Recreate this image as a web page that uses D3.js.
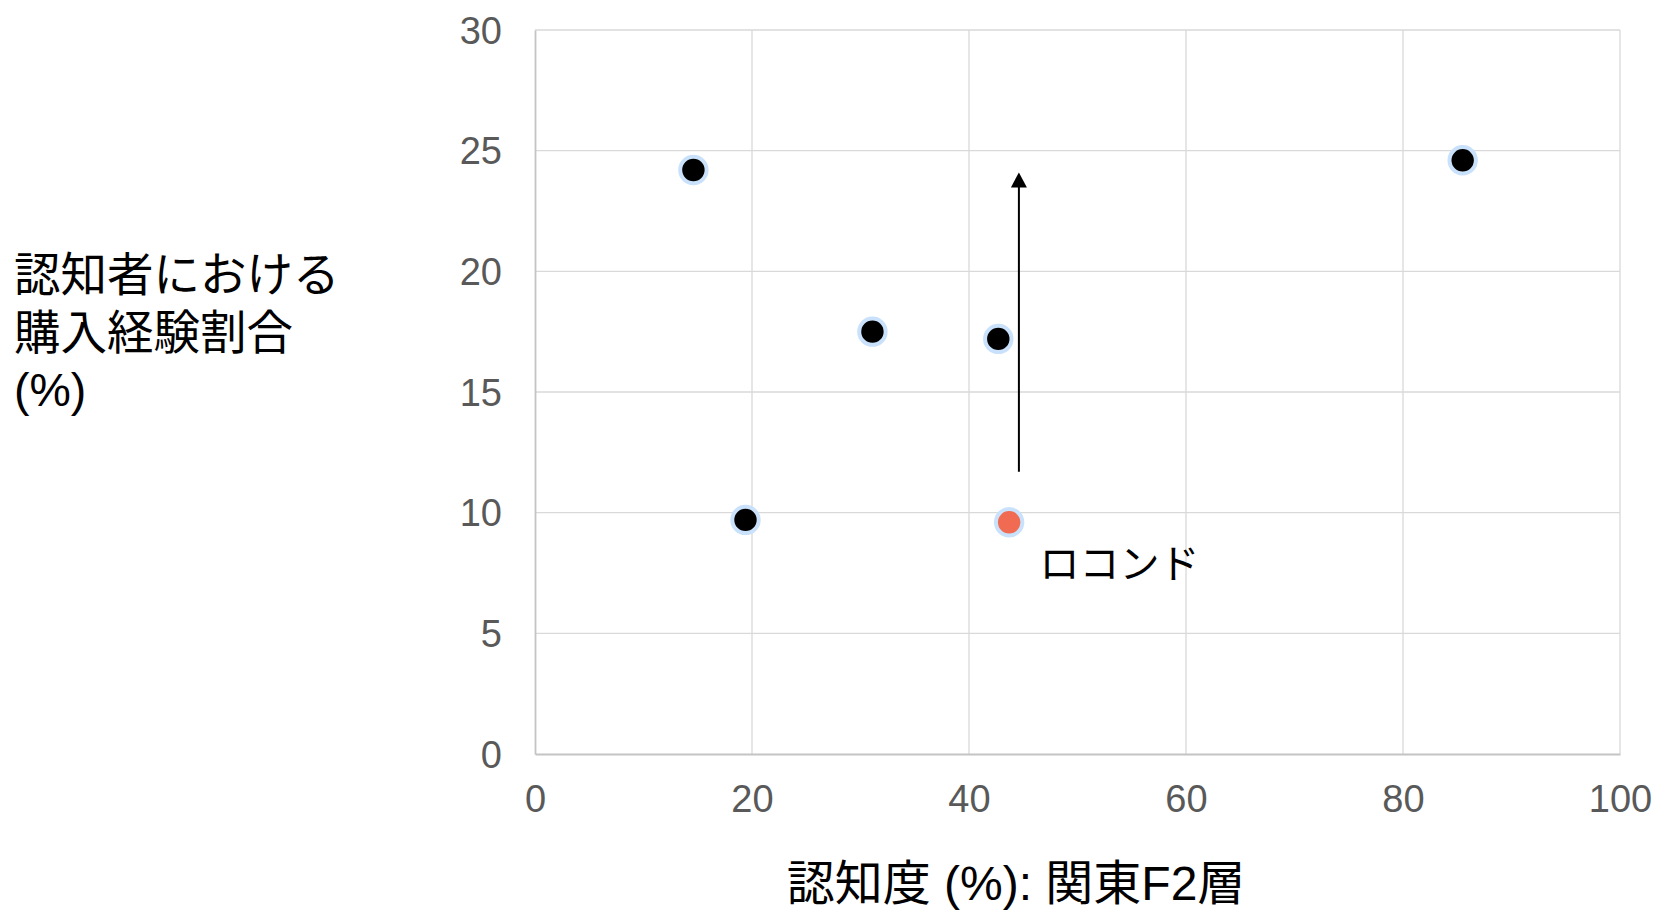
<!DOCTYPE html>
<html><head><meta charset="utf-8">
<script src="https://cdn.jsdelivr.net/npm/d3@7"></script>
<style>
body{margin:0;background:#fff;}
text{font-family:"Liberation Sans","Noto Sans CJK JP",Arial,sans-serif;}
</style></head>
<body>
<svg id="chart" width="1657" height="912"></svg>
<script>
const xValues = [14.6, 19.4, 31.1, 42.7, 85.5, 43.7];
const yValues = [24.2, 9.7, 17.5, 17.2, 24.6, 9.6];
const highlight = [false, false, false, false, false, true];
const xTicks = [0, 20, 40, 60, 80, 100];
const yTicks = [0, 5, 10, 15, 20, 25, 30];
const arrowX = [44.6, 44.6];
const arrowY = [11.7, 24.1];
const pointLabel = "ロコンド";
const pointLabelPos = [46.5, 7.3];
const xTitle = "認知度 (%): 関東F2層";
const yTitleLines = ["認知者における", "購入経験割合", "(%)"];

const svg = d3.select("#chart");
const L = 535, R = 1620, T = 30, B = 754;
const x = d3.scaleLinear().domain([0, 100]).range([L, R]);
const y = d3.scaleLinear().domain([0, 30]).range([B, T]);

// gridlines
svg.append("g").selectAll("line").data(xTicks.filter(d => d > 0)).join("line")
  .attr("x1", d => x(d)).attr("x2", d => x(d)).attr("y1", T).attr("y2", B)
  .attr("stroke", "#d9d9d9").attr("stroke-width", 1.3);
svg.append("g").selectAll("line").data(yTicks.filter(d => d > 0)).join("line")
  .attr("x1", L).attr("x2", R).attr("y1", d => y(d)).attr("y2", d => y(d))
  .attr("stroke", "#d9d9d9").attr("stroke-width", 1.3);

// axes lines
const xAxis = d3.axisBottom(x).tickValues(xTicks).tickSize(0).tickPadding(0);
const yAxis = d3.axisLeft(y).tickValues(yTicks).tickSize(0).tickPadding(0);
const gx = svg.append("g").attr("transform", `translate(0,${B})`).call(xAxis);
const gy = svg.append("g").attr("transform", `translate(${L},0)`).call(yAxis);
[gx, gy].forEach(g => {
  g.select(".domain").attr("stroke", "#c4c4c4").attr("stroke-width", 1.8);
  g.selectAll("text").attr("fill", "#595959").style("font-size", "38px")
   .style("font-family", '"Liberation Sans", Arial, sans-serif');
});
gx.selectAll("text").attr("y", 58).attr("dy", 0);
gy.selectAll("text").attr("x", -33).attr("dy", "0.35em");

// arrow
svg.append("line")
  .attr("x1", x(arrowX[0])).attr("x2", x(arrowX[1]))
  .attr("y1", y(arrowY[0])).attr("y2", y(arrowY[1]) + 13)
  .attr("stroke", "#000").attr("stroke-width", 2);
svg.append("path")
  .attr("d", `M${x(arrowX[1]) - 8},${y(arrowY[1]) + 15} L${x(arrowX[1])},${y(arrowY[1])} L${x(arrowX[1]) + 8},${y(arrowY[1]) + 15} Z`)
  .attr("fill", "#000");

// points
svg.append("g").selectAll("circle").data(xValues.map((v, i) => ({x: v, y: yValues[i], h: highlight[i]}))).join("circle")
  .attr("cx", d => x(d.x)).attr("cy", d => y(d.y)).attr("r", 13.2)
  .attr("fill", d => d.h ? "#f06b52" : "#000")
  .attr("stroke", "#c9e1fb").attr("stroke-width", 4);

// point label
svg.append("text").attr("x", x(pointLabelPos[0])).attr("y", y(pointLabelPos[1]))
  .attr("fill", "#000").style("font-size", "40px")
  .style("font-family", '"Noto Sans CJK JP", sans-serif')
  .text(pointLabel);

// axis titles
svg.append("text").attr("x", 1016).attr("y", 900).attr("text-anchor", "middle")
  .attr("fill", "#000").style("font-size", "48px").text(xTitle);
const yt = svg.append("text").attr("fill", "#000").style("font-size", "46.5px");
yTitleLines.forEach((t, i) => {
  yt.append("tspan").attr("x", 14).attr("y", 291 + i * 57.5).text(t);
});
</script>
</body></html>
